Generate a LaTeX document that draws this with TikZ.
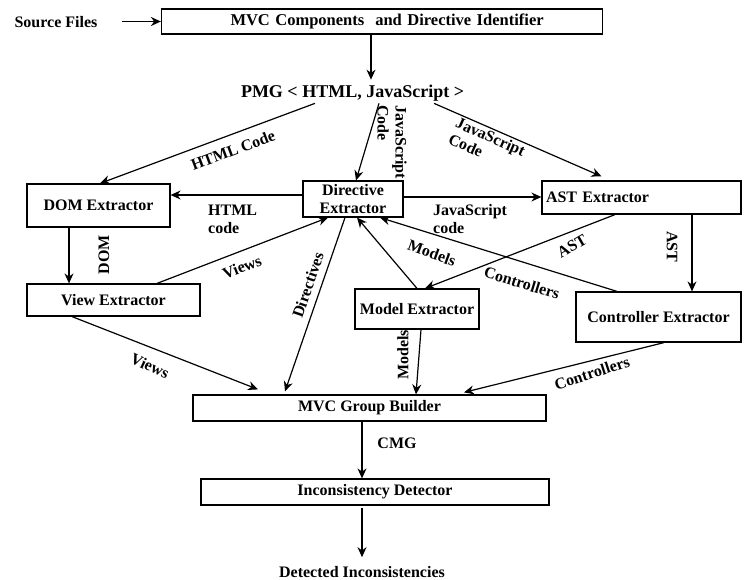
\documentclass[tikz,border=0pt]{standalone}
\usepackage{fontspec}
\setmainfont{Liberation Serif}
\usetikzlibrary{arrows.meta}
\begin{document}
\begin{tikzpicture}[x=1pt,y=-1pt,
  box/.style={draw, line width=1.2pt, inner sep=0pt, align=center, font=\bfseries\fontsize{16}{18}\selectfont},
  txt/.style={inner sep=0pt, font=\bfseries\fontsize{16}{18}\selectfont},
  arr/.style={-{Stealth[length=10pt,width=9pt]}, line width=1.2pt}]
\useasboundingbox[fill=white] (0,0) rectangle (750,580);
% boxes
\node[box, minimum height=25pt, text width=431pt, inner xsep=5pt, align=left, font=\bfseries\fontsize{16.5}{18}\selectfont] (mvc) at (382,21.5) {\hspace*{64pt}MVC Components\ \ and Directive Identifier};
\node[box, minimum width=143pt, minimum height=43pt] (dom) at (98.5,205.5) {DOM Extractor};
\node[box, minimum width=100pt, minimum height=36pt] (dir) at (353,199) {Directive\\Extractor};
\node[box, minimum height=33pt, text width=191pt, inner xsep=4pt, align=left] (ast) at (641.5,197.5) {AST Extractor};
\node[box, minimum width=173pt, minimum height=32pt] (view) at (113.5,300) {View Extractor};
\node[box, minimum width=124pt, minimum height=40pt] (model) at (417,309) {Model Extractor};
\node[box, minimum width=165pt, minimum height=50pt] (ctrl) at (658.5,317) {Controller Extractor};
\node[box, minimum width=353pt, minimum height=26pt] (grp) at (369.5,408) {MVC Group Builder};
\node[box, minimum width=348pt, minimum height=26pt] (inc) at (375,492) {Inconsistency Detector};
% free texts
\node[txt] (src) at (56,22) {Source Files};
\node[txt, inner sep=2pt, font=\bfseries\fontsize{18}{20}\selectfont] (pmg) at (352.5,93) {PMG < HTML, JavaScript >};
\node[txt, inner sep=2pt] (det) at (362,572) {Detected Inconsistencies};
% connectors
\draw[arr] ([xshift=24pt]src.east |- mvc.west) -- (mvc.west);
\draw[arr] ([xshift=-11pt]mvc.south) -- ([xshift=-11pt,yshift=3pt]mvc.south |- pmg.north);
\draw[arr] ([xshift=-37.5pt]pmg.south) -- ([xshift=1.5pt]dom.north);
\draw[arr] ([xshift=26.5pt]pmg.south) -- ([xshift=3pt]dir.north);
\draw[arr] ([xshift=81.5pt]pmg.south) -- ([xshift=-40pt,yshift=4pt]ast.north);
\draw[arr] ([yshift=4pt]dir.west) -- ([yshift=4pt]dir.west -| dom.east);
\draw[arr] ([yshift=2pt]dir.east) -- ([yshift=2pt]dir.east -| ast.west);
\draw[arr] ([xshift=-29.5pt]dom.south) -- ([xshift=-29.5pt]dom.south |- view.north);
\draw[arr] ([xshift=43.5pt]view.north) -- ([xshift=-25pt]dir.south);
\draw[arr] ([xshift=-8pt]dir.south) -- ([xshift=-84.5pt,yshift=3pt]grp.north);
\draw[arr] (model.north) -- ([xshift=4pt]dir.south);
\draw[arr] ([xshift=-41.5pt]ctrl.north) -- ([xshift=27pt]dir.south);
\draw[arr] ([xshift=-26.5pt]ast.south) -- ([xshift=8pt]model.north);
\draw[arr] ([xshift=50.5pt]ast.south) -- ([xshift=50.5pt]ast.south |- ctrl.north);
\draw[arr] ([xshift=-41.5pt]view.south) -- ([xshift=-111.5pt,yshift=5pt]grp.north);
\draw[arr] ([xshift=4pt]model.south) -- ([xshift=46.5pt]grp.north);
\draw[arr] ([xshift=5.5pt]ctrl.south) -- ([xshift=94.5pt,yshift=2pt]grp.north);
\draw[arr] ([xshift=-7.5pt]grp.south) -- ([xshift=-7.5pt]grp.south |- inc.north);
\draw[arr] ([xshift=-13pt,yshift=-2pt]inc.south) -- ([yshift=7pt]det.north);
% labels
\node[txt, rotate=20.6] (l1) at (233,150) {HTML Code};
\node[txt, rotate=-90, align=left] (l2) at (392,142) {JavaScript\\Code};
\node[txt, rotate=-24, align=left] (l3) at (487,145) {JavaScript\\Code};
\node[txt, align=left, anchor=west] (l4) at (208,219) {HTML\\code};
\node[txt, align=left, anchor=west] (l5) at (433,219) {JavaScript\\code};
\node[txt, rotate=90] (l6) at (104,255) {DOM};
\node[txt, rotate=21] (l7) at (242,267) {Views};
\node[txt, rotate=71] (l8) at (308,285) {Directives};
\node[txt, rotate=-20] (l9) at (432,253) {Models};
\node[txt, rotate=-17] (l10) at (522,283) {Controllers};
\node[txt, rotate=30] (l11) at (572,246) {AST};
\node[txt, rotate=-90] (l12) at (672,247) {AST};
\node[txt, rotate=-25] (l13) at (150,366) {Views};
\node[txt, rotate=90] (l14) at (403,355) {Models};
\node[txt, rotate=18] (l15) at (592,373) {Controllers};
\node[txt] (l16) at (397,443) {CMG};
\end{tikzpicture}
\end{document}
